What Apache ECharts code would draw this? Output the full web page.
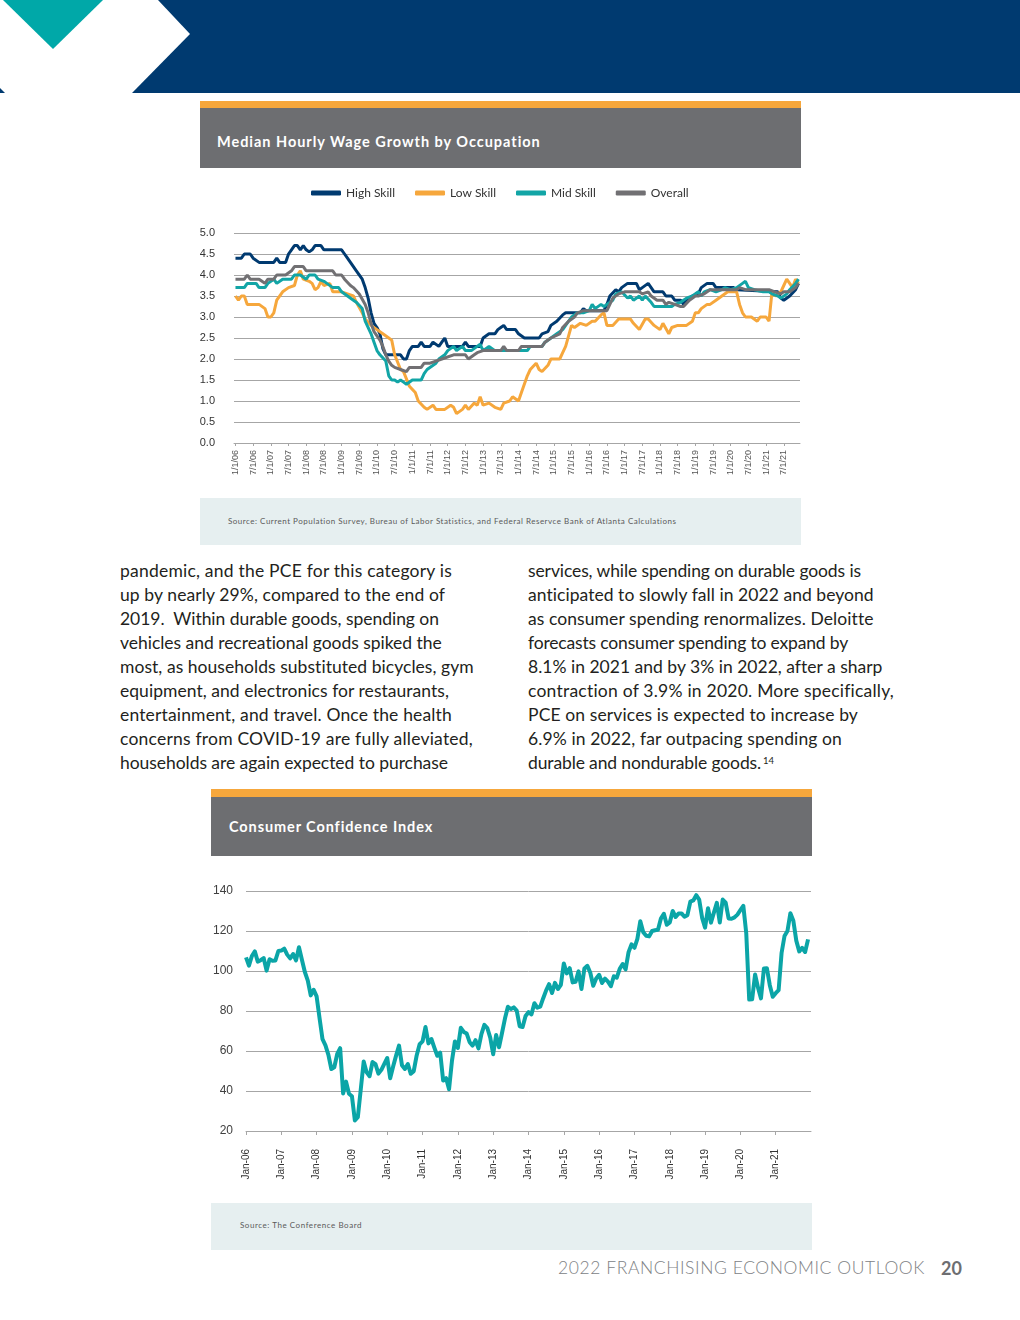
<!DOCTYPE html>
<html>
<head>
<meta charset="utf-8">
<script src="https://cdn.jsdelivr.net/npm/echarts/dist/echarts.min.js"></script>
<style>
  html, body { margin: 0; padding: 0; background: #fff; }
  body { width: 1020px; height: 1320px; position: relative; overflow: hidden; font-family: Lato, "Noto Sans", sans-serif; }
  .abs { position: absolute; }
  .fit { white-space: nowrap; display: inline-block; }
  .body-line { position: absolute; font-size: 17.5px; line-height: 24px; color: #231f20; white-space: nowrap; }
  .title { color: #fff; font-weight: 700; font-size: 14.5px; line-height: 20px; }
  .src { color: #5a5a5a; font-size: 8px; line-height: 12px; }
</style>
</head>
<body>
<svg class="abs" style="left:0;top:0" width="1020" height="94">
  <rect x="0" y="0" width="1020" height="93" fill="#003A70"/>
  <polygon points="0,0 158,0 190,34 132,93 5,93 0,88" fill="#ffffff"/>
  <polygon points="3,0 103,0 53,49" fill="#00A8A8"/>
</svg>

<!-- Chart 1 header -->
<div class="abs" style="left:200px;top:101px;width:601px;height:8px;background:#F6A73C"></div>
<div class="abs" style="left:200px;top:108px;width:601px;height:60px;background:#6D6E71"></div>
<div class="abs title fit" style="left:217px;top:132px" data-w="324">Median Hourly Wage Growth by Occupation</div>
<div id="chart1" class="abs" style="left:200px;top:170px;width:601px;height:328px"></div>
<div class="abs" style="left:200px;top:498px;width:601px;height:47px;background:#E6EFF0"></div>
<div class="abs src fit" style="left:228px;top:515px" data-w="449">Source: Current Population Survey, Bureau of Labor Statistics, and Federal Reservce Bank of Atlanta Calculations</div>

<!-- Chart 2 header -->
<div class="abs" style="left:211px;top:789px;width:601px;height:8px;background:#F6A73C"></div>
<div class="abs" style="left:211px;top:797px;width:601px;height:59px;background:#6D6E71"></div>
<div class="abs title fit" style="left:229px;top:817px" data-w="204">Consumer Confidence Index</div>
<div id="chart2" class="abs" style="left:211px;top:870px;width:601px;height:333px"></div>
<div class="abs" style="left:211px;top:1203px;width:601px;height:47px;background:#E6EFF0"></div>
<div class="abs src fit" style="left:240px;top:1219px" data-w="122">Source: The Conference Board</div>

<!-- Footer -->
<div class="abs fit" style="left:558px;top:1256px;font-size:17.5px;line-height:24px;font-weight:300;color:#808285" data-w="367">2022 FRANCHISING ECONOMIC OUTLOOK</div>
<div class="abs fit" style="left:941px;top:1256px;font-size:18px;line-height:24px;font-weight:700;color:#6D6E71" data-w="21">20</div>

<script>
// ---------- Text content ----------
const leftLines = [
  ["pandemic, and the PCE for this category is", 332],
  ["up by nearly 29%, compared to the end of", 325],
  ["2019.\u00a0 Within durable goods, spending on", 319],
  ["vehicles and recreational goods spiked the", 322],
  ["most, as households substituted bicycles, gym", 354],
  ["equipment, and electronics for restaurants,", 329],
  ["entertainment, and travel. Once the health", 332],
  ["concerns from COVID-19 are fully alleviated,", 353],
  ["households are again expected to purchase", 328]
];
const rightLines = [
  ["services, while spending on durable goods is", 333],
  ["anticipated to slowly fall in 2022 and beyond", 346],
  ["as consumer spending renormalizes. Deloitte", 345],
  ["forecasts consumer spending to expand by", 320],
  ["8.1% in 2021 and by 3% in 2022, after a sharp", 354],
  ["contraction of 3.9% in 2020. More specifically,", 366],
  ["PCE on services is expected to increase by", 330],
  ["6.9% in 2022, far outpacing spending on", 314],
  ["durable and nondurable goods.", 233]
];
function addLines(lines, x) {
  lines.forEach((l, i) => {
    const d = document.createElement('div');
    d.className = 'body-line fit';
    d.style.left = x + 'px';
    d.style.top = (559 + 24 * i) + 'px';
    d.textContent = l[0];
    d.dataset.w = l[1];
    document.body.appendChild(d);
  });
}
addLines(leftLines, 120);
addLines(rightLines, 528);
const sup = document.createElement('div');
sup.className = 'abs';
sup.style.cssText = 'left:763px;top:755px;font-size:9.5px;line-height:12px;color:#231f20';
sup.textContent = '14';
document.body.appendChild(sup);

document.querySelectorAll('[data-w]').forEach(el => {
  const target = +el.dataset.w;
  el.style.letterSpacing = '0px';
  const w = el.getBoundingClientRect().width;
  const n = el.textContent.length;
  el.style.letterSpacing = ((target - w) / n).toFixed(3) + 'px';
});

// ---------- Chart 1 data: [month index from Jan 2006, value] ----------
const wageTickLabels = ['1/1/06','7/1/06','1/1/07','7/1/07','1/1/08','7/1/08','1/1/09','7/1/09','1/1/10','7/1/10',
  '1/1/11','7/1/11','1/1/12','7/1/12','1/1/13','7/1/13','1/1/14','7/1/14','1/1/15','7/1/15','1/1/16','7/1/16',
  '1/1/17','7/1/17','1/1/18','7/1/18','1/1/19','7/1/19','1/1/20','7/1/20','1/1/21','7/1/21'];
const wageYAxisTicks = [0, 5, 0.5];

const highSkill = [[0,4.4],[2,4.4],[3,4.5],[5,4.5],[6,4.4],[8,4.3],[13,4.3],[14,4.4],[15,4.3],[17,4.3],
  [18,4.5],[19,4.6],[20,4.7],[21,4.7],[22,4.6],[23,4.7],[24,4.6],[25,4.55],[26,4.6],[27,4.7],
  [29,4.7],[30,4.6],[36,4.6],[37,4.5],[38,4.4],[39,4.3],[40,4.2],[41,4.1],[43,3.9],[44,3.7],
  [45,3.45],[46,3.1],[47,2.85],[48,2.75],[49,2.6],[50,2.25],[51,2.1],[56,2.1],[57,2.0],[58,2.0],
  [59,2.2],[60,2.3],[62,2.3],[63,2.4],[64,2.3],[66,2.3],[67,2.4],[69,2.3],[70,2.4],[71,2.5],
  [72,2.3],[77,2.3],[78,2.4],[79,2.3],[83,2.3],[84,2.5],[86,2.6],[88,2.6],[89,2.7],[90,2.75],
  [91,2.8],[92,2.7],[95,2.7],[96,2.6],[98,2.5],[103,2.5],[104,2.6],[106,2.65],[107,2.8],[109,2.9],
  [111,3.05],[112,3.1],[117,3.1],[118,3.2],[119,3.15],[125,3.15],[126,3.3],[127,3.5],[129,3.65],[130,3.6],
  [131,3.7],[133,3.8],[136,3.8],[137,3.65],[138,3.7],[140,3.8],[141,3.7],[142,3.6],[145,3.6],[146,3.5],
  [148,3.5],[149,3.4],[151,3.4],[152,3.3],[153,3.4],[155,3.5],[157,3.55],[158,3.7],[160,3.8],[162,3.8],
  [163,3.7],[169,3.7],[170,3.65],[184,3.6],[185,3.45],[186,3.4],[188,3.5],[190,3.65],[191,3.8]];

const lowSkill = [[0,3.5],[1,3.4],[2,3.5],[3,3.5],[4,3.3],[8,3.3],[10,3.2],[11,3.0],[12,3.0],[13,3.1],
  [14,3.4],[16,3.6],[18,3.7],[20,3.75],[21,4.0],[22,4.1],[23,3.9],[25,3.85],[26,3.8],[27,3.65],
  [28,3.7],[29,3.85],[30,3.75],[32,3.8],[33,3.6],[36,3.6],[38,3.55],[40,3.5],[41,3.35],[43,3.1],
  [44,2.95],[46,2.8],[48,2.7],[50,2.6],[52,2.5],[53,2.45],[54,2.1],[56,1.75],[57,1.7],[59,1.35],
  [61,1.2],[62,1.0],[64,0.85],[65,0.8],[67,0.9],[68,0.8],[71,0.8],[73,0.9],[74,0.85],[75,0.7],
  [77,0.8],[78,0.9],[79,0.8],[81,0.95],[82,0.9],[83,1.1],[84,0.9],[86,0.95],[88,0.85],[90,0.8],
  [91,0.95],[93,1.0],[94,1.1],[96,1.0],[97,1.2],[99,1.6],[100,1.75],[102,1.9],[103,1.75],[104,1.7],
  [106,1.85],[107,2.0],[110,2.0],[111,2.15],[112,2.3],[113,2.55],[114,2.8],[115,2.75],[117,2.85],[119,2.8],
  [121,2.9],[122,2.9],[124,3.05],[125,3.1],[126,2.8],[128,2.8],[130,2.95],[134,2.95],[135,2.85],[137,2.7],
  [139,2.95],[140,2.95],[142,2.8],[144,2.7],[145,2.85],[147,2.6],[148,2.75],[150,2.8],[153,2.8],[155,2.9],
  [156,3.1],[157,3.1],[158,3.2],[160,3.3],[161,3.3],[163,3.4],[165,3.5],[167,3.6],[170,3.6],[171,3.3],
  [172,3.1],[173,3.0],[175,3.0],[177,2.9],[178,3.0],[180,3.0],[181,2.9],[182,3.6],[183,3.5],[185,3.6],
  [186,3.75],[187,3.9],[189,3.7],[190,3.9],[191,3.8]];

const midSkill = [[0,3.7],[3,3.7],[4,3.8],[7,3.8],[8,3.7],[10,3.7],[11,3.8],[13,3.9],[14,3.8],[16,3.9],
  [19,3.9],[20,4.0],[22,4.0],[24,3.9],[25,4.0],[27,4.0],[28,3.9],[30,3.85],[31,3.8],[33,3.7],
  [35,3.7],[36,3.6],[38,3.5],[40,3.4],[41,3.35],[43,3.2],[44,2.9],[46,2.6],[47,2.4],[48,2.2],
  [49,2.1],[51,1.95],[52,1.6],[53,1.5],[54,1.5],[55,1.45],[56,1.5],[57,1.45],[58,1.4],[60,1.5],
  [63,1.5],[64,1.65],[65,1.75],[68,1.9],[69,2.0],[71,2.1],[72,2.2],[74,2.3],[75,2.2],[77,2.3],
  [78,2.2],[80,2.2],[82,2.3],[83,2.35],[84,2.2],[86,2.3],[88,2.2],[95,2.2],[97,2.2],[99,2.2],
  [100,2.3],[104,2.3],[105,2.4],[107,2.5],[109,2.6],[111,2.7],[112,2.8],[114,3.0],[116,3.1],[118,3.1],
  [120,3.15],[121,3.3],[122,3.2],[124,3.3],[125,3.25],[126,3.3],[128,3.4],[129,3.55],[131,3.6],[133,3.45],
  [134,3.5],[135,3.4],[137,3.5],[138,3.4],[139,3.5],[141,3.35],[142,3.25],[148,3.25],[149,3.3],[151,3.35],
  [153,3.45],[155,3.5],[157,3.6],[158,3.5],[159,3.6],[161,3.65],[163,3.6],[165,3.65],[166,3.7],[168,3.65],
  [170,3.7],[172,3.8],[173,3.85],[174,3.7],[176,3.65],[179,3.6],[181,3.6],[182,3.55],[184,3.5],[185,3.45],
  [187,3.55],[188,3.65],[190,3.8],[191,3.9]];

const overall = [[0,3.9],[3,3.9],[4,4.0],[5,3.9],[8,3.9],[9,3.85],[10,3.8],[11,3.9],[13,3.9],[14,4.0],
  [17,4.0],[19,4.1],[20,4.2],[23,4.2],[24,4.1],[33,4.1],[34,4.0],[36,4.0],[37,3.9],[39,3.75],
  [40,3.7],[42,3.55],[44,3.3],[45,3.1],[46,2.85],[47,2.65],[49,2.45],[50,2.3],[51,2.1],[52,1.95],
  [53,1.85],[54,1.8],[56,1.75],[58,1.7],[59,1.8],[63,1.8],[64,1.9],[66,1.9],[68,1.95],[70,2.0],
  [74,2.1],[78,2.1],[79,2.0],[81,2.1],[82,2.15],[84,2.2],[90,2.2],[91,2.3],[92,2.2],[96,2.2],
  [97,2.3],[104,2.3],[105,2.4],[107,2.5],[110,2.6],[111,2.75],[113,2.9],[115,3.0],[116,3.1],[118,3.15],
  [126,3.15],[127,3.3],[128,3.45],[130,3.55],[132,3.6],[137,3.6],[138,3.55],[140,3.6],[141,3.5],[143,3.4],
  [145,3.4],[146,3.3],[147,3.35],[149,3.3],[151,3.25],[152,3.25],[154,3.4],[156,3.5],[157,3.5],[159,3.55],
  [161,3.65],[170,3.65],[171,3.7],[173,3.65],[181,3.65],[183,3.6],[185,3.55],[186,3.6],[188,3.6],[190,3.7],
  [191,3.8]];

// ---------- Chart 2 data: monthly index Jan 2006 - Dec 2021 ----------
const cciTickLabels = ['Jan-06','Jan-07','Jan-08','Jan-09','Jan-10','Jan-11','Jan-12','Jan-13',
  'Jan-14','Jan-15','Jan-16','Jan-17','Jan-18','Jan-19','Jan-20','Jan-21'];
const cci2006 = [106.8,102.7,107.5,109.8,104.7,105.4,106.5,100.2,105.9,105.1,105.3,110.0];
const cci2007 = [110.2,111.2,108.2,106.3,108.5,105.3,111.9,105.6,99.5,95.2,87.8,90.6];
const cci2008 = [87.3,76.4,65.9,62.8,58.1,51.0,51.9,58.5,61.4,38.8,44.7,38.6];
const cci2009 = [37.4,25.3,26.9,40.8,54.8,49.3,47.4,54.5,53.4,48.7,50.6,53.6];
const cci2010 = [56.5,46.4,52.3,57.7,62.7,52.9,51.0,53.5,48.6,49.9,57.8,63.4];
const cci2011 = [64.8,72.0,63.8,66.0,61.7,57.6,59.2,45.2,46.4,40.9,55.2,64.8];
const cci2012 = [61.5,71.6,69.5,68.7,64.4,62.7,65.4,61.3,68.4,73.1,71.5,66.7];
const cci2013 = [58.4,68.0,61.9,69.0,76.2,82.1,81.0,81.8,80.2,72.4,72.0,77.5];
const cci2014 = [79.4,78.3,83.9,81.7,82.2,86.4,90.3,93.4,89.0,94.1,91.0,93.1];
const cci2015 = [103.8,98.8,101.4,94.3,94.6,99.8,91.0,101.3,102.6,99.1,92.6,96.3];
const cci2016 = [98.1,94.0,96.2,94.7,92.4,97.4,96.7,101.1,103.5,100.8,109.4,113.3];
const cci2017 = [111.6,116.1,124.9,119.4,117.6,117.3,120.0,120.4,120.6,126.2,128.6,123.1];
const cci2018 = [124.3,130.0,127.0,128.8,128.8,127.1,127.9,134.7,135.3,137.9,135.7,126.6];
const cci2019 = [121.7,131.4,124.2,129.2,134.1,124.3,135.7,134.2,126.3,126.1,126.8,128.2];
const cci2020 = [130.4,132.6,118.8,85.7,85.9,98.3,91.7,86.3,101.3,101.4,92.9,87.1];
const cci2021 = [88.9,90.4,109.0,117.5,120.0,128.9,125.1,115.2,109.8,111.6,109.5,115.8];
const cciValues = [].concat(cci2006,cci2007,cci2008,cci2009,cci2010,cci2011,cci2012,cci2013,
  cci2014,cci2015,cci2016,cci2017,cci2018,cci2019,cci2020,cci2021);

// ---------- Chart 1 ----------
const monthCats = [];
for (let i = 0; i < 192; i++) monthCats.push(String(i));
const colors = { high: '#003A70', low: '#F6A73C', mid: '#12A5A6', overall: '#717073' };
function wageSeries(name, data, color) {
  return { name, type: 'line', data, showSymbol: false, symbol: 'none', smooth: false,
    lineStyle: { width: 3, color }, itemStyle: { color }, emphasis: { disabled: true } };
}
const chart1 = echarts.init(document.getElementById('chart1'), null, { renderer: 'canvas' });
chart1.setOption({
  animation: false,
  textStyle: { fontFamily: 'Liberation Sans, Arial, sans-serif' },
  legend: {
    left: 106, top: 12, itemWidth: 30, itemHeight: 5, itemGap: 20, icon: 'roundRect',
    textStyle: { fontFamily: 'Lato, sans-serif', fontSize: 12, color: '#333' },
    data: ['High Skill', 'Low Skill', 'Mid Skill', 'Overall']
  },
  grid: { left: 34, right: 1, top: 63, bottom: 55, containLabel: false, outerBoundsMode: 'none' },
  xAxis: {
    type: 'category', data: monthCats, boundaryGap: true,
    axisLine: { lineStyle: { color: '#a6a6a6' } },
    axisTick: { show: true, alignWithLabel: true, length: 3, interval: (i) => i % 6 === 0, lineStyle: { color: '#a6a6a6' } },
    axisLabel: { interval: (i) => i % 6 === 0, rotate: 90, fontSize: 9, color: '#555', margin: 7,
      formatter: (v) => wageTickLabels[Number(v) / 6] || '' }
  },
  yAxis: {
    type: 'value', min: wageYAxisTicks[0], max: wageYAxisTicks[1], interval: wageYAxisTicks[2],
    axisLine: { show: false }, axisTick: { show: false },
    splitLine: { lineStyle: { color: '#a6a6a6', width: 1 } },
    axisLabel: { fontSize: 11, color: '#333', margin: 19, formatter: (v) => v.toFixed(1) }
  },
  series: [
    wageSeries('High Skill', highSkill, colors.high),
    wageSeries('Low Skill', lowSkill, colors.low),
    wageSeries('Mid Skill', midSkill, colors.mid),
    wageSeries('Overall', overall, colors.overall)
  ]
});

// ---------- Chart 2 ----------
const chart2 = echarts.init(document.getElementById('chart2'), null, { renderer: 'canvas' });
chart2.setOption({
  animation: false,
  textStyle: { fontFamily: 'Liberation Sans, Arial, sans-serif' },
  grid: { left: 35, right: 1, top: 21, bottom: 72, containLabel: false, outerBoundsMode: 'none' },
  xAxis: {
    type: 'value', min: 0, max: 192, interval: 12,
    axisLine: { show: true, lineStyle: { color: '#a6a6a6' } },
    axisTick: { show: true, length: 4, lineStyle: { color: '#a6a6a6' } },
    splitLine: { show: false },
    axisLabel: { rotate: 90, fontSize: 10, color: '#333', margin: 18, showMaxLabel: false,
      formatter: (v) => cciTickLabels[v / 12] || '' }
  },
  yAxis: {
    type: 'value', min: 20, max: 140, interval: 20,
    axisLine: { show: false }, axisTick: { show: false },
    splitLine: { lineStyle: { color: '#a6a6a6', width: 1 } },
    axisLabel: { fontSize: 12, color: '#404040', margin: 13 }
  },
  series: [{
    name: 'Consumer Confidence Index', type: 'line', showSymbol: false, symbol: 'none',
    data: cciValues.map((v, i) => [i, v]),
    lineStyle: { width: 4, color: '#0BA5A7', join: 'round' }, emphasis: { disabled: true }
  }]
});
</script>
</body>
</html>
